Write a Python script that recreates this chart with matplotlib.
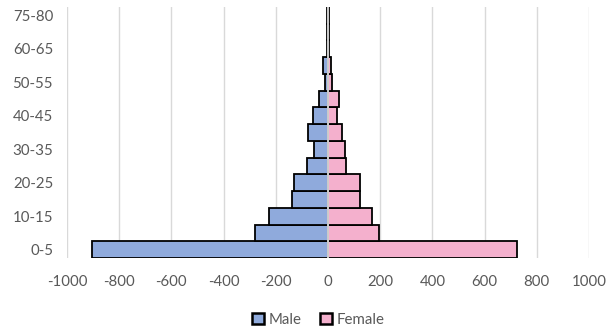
import matplotlib.pyplot as plt
import numpy as np

# age groups, bottom to top
ages = ["0-5", "5-10", "10-15", "15-20", "20-25", "25-30", "30-35", "35-40",
        "40-45", "45-50", "50-55", "55-60", "60-65", "65-70", "75-80"]
male = [-905, -281, -225, -137, -129, -81, -55, -78, -57, -35, -12, -18, -4, -3, -3]
female = [724, 195, 167, 123, 123, 67, 65, 52, 36, 42, 14, 12, 4, 3, 3]
shown_labels = ["0-5", "10-15", "20-25", "30-35", "40-45", "50-55", "60-65", "75-80"]
xticks = np.arange(-1000, 1001, 200)

plt.rcParams['font.family'] = ['Lato', 'DejaVu Sans']

fig = plt.figure(figsize=(6.06, 3.27), dpi=100)
ax = fig.add_axes([0.1106, 0.211, 0.8614, 0.7676])

y = np.arange(len(ages))
ax.barh(y, male, height=1.0, color='#8FAADC', edgecolor='black', linewidth=1.3,
        label='Male', zorder=3)
ax.barh(y, female, height=1.0, color='#F4B0CD', edgecolor='black', linewidth=1.3,
        label='Female', zorder=3)
ax.axvline(0, color='#F2F2F2', linewidth=1.2, zorder=4)

ax.set_xlim(-1000, 1000)
ax.set_ylim(-0.5, len(ages) - 0.5)
ax.set_xticks(xticks)
ax.set_xticklabels([str(v) for v in xticks])
ax.set_yticks([ages.index(a) for a in shown_labels])
ax.set_yticklabels(shown_labels)
ax.tick_params(axis='both', length=0, labelsize=10.8, labelcolor='#595959')
ax.tick_params(axis='x', pad=12)
ax.tick_params(axis='y', pad=10)

ax.grid(axis='x', color='#D9D9D9', linewidth=1.0, zorder=0)
ax.set_axisbelow(True)
for s in ax.spines.values():
    s.set_visible(False)

leg = fig.legend(loc='lower center', bbox_to_anchor=(0.525, -0.04), ncol=2, frameon=False,
                 fontsize=10.8, labelcolor='#595959', handlelength=0.8, handleheight=0.8,
                 handletextpad=0.3, columnspacing=1.2)
for h in leg.legend_handles:
    h.set_linewidth(1.8)

fig.savefig('out.png', dpi=100)
